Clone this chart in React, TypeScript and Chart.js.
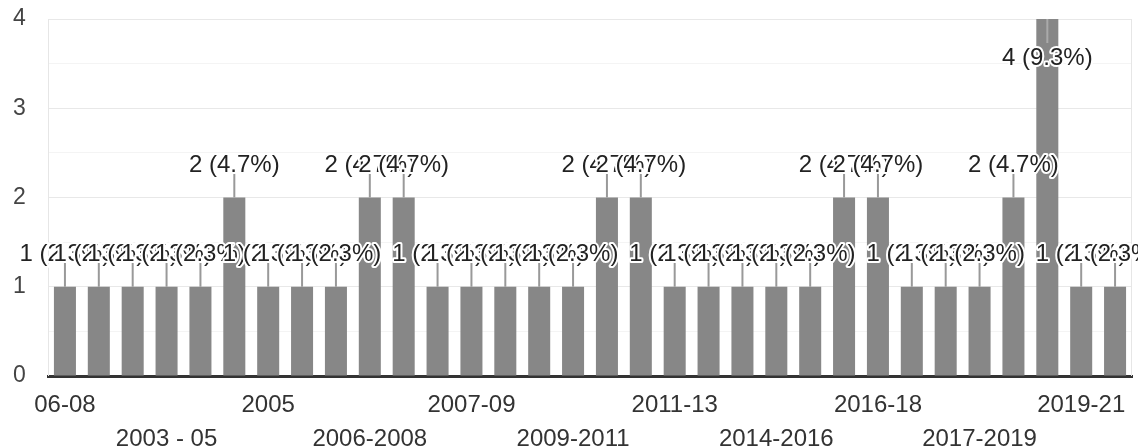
import React, { useEffect, useRef } from "react";
import { Chart, registerables } from "chart.js";

Chart.register(...registerables);

const categories: string[] = [
  "06-08", "2002-04", "2003 - 04", "2003 - 05", "2004-06", "2004-2006", "2005", "2005-07",
  "2005-2007", "2006-2008", "2006-08", "2007", "2007-09", "2008-10", "2008-2010", "2009-2011",
  "2009-11", "2010-12", "2011-13", "2011-2013", "2012-14", "2014-2016", "2014-16", "2015-17",
  "2016-18", "2016-2018", "2017-19", "2017-2019", "2018-20", "2018-2020", "2019-21", "2020-22",
];

const counts: number[] = [
  1, 1, 1, 1, 1, 2, 1, 1, 1, 2, 2, 1, 1, 1, 1, 1,
  2, 2, 1, 1, 1, 1, 1, 2, 2, 1, 1, 1, 2, 4, 1, 1,
];

const yTicks: number[] = [0, 1, 2, 3, 4];

const FONT = 'Arial, "Liberation Sans", sans-serif';
const total = counts.reduce((a, b) => a + b, 0);

const annotationPlugin = {
  id: "barAnnotations",
  beforeDatasetsDraw(chart: any) {
    const { ctx, chartArea } = chart;
    ctx.save();
    ctx.strokeStyle = "#e6e6e6";
    ctx.lineWidth = 1;
    ctx.beginPath();
    ctx.moveTo(chartArea.left + 0.5, chartArea.top);
    ctx.lineTo(chartArea.left + 0.5, chartArea.bottom);
    ctx.moveTo(chartArea.right - 0.5, chartArea.top);
    ctx.lineTo(chartArea.right - 0.5, chartArea.bottom);
    ctx.stroke();
    ctx.restore();
  },
  afterDatasetsDraw(chart: any) {
    const { ctx, chartArea } = chart;
    const meta = chart.getDatasetMeta(0);
    const items = meta.data.map((bar: any, i: number) => {
      const v = counts[i];
      const top = bar.y;
      const inside = top - 33 - 12 < chartArea.top;
      return {
        x: bar.x,
        top,
        inside,
        text: `${v} (${((v / total) * 100).toFixed(1)}%)`,
      };
    });
    ctx.save();
    ctx.lineWidth = 2;
    items.forEach((it: any) => {
      ctx.strokeStyle = it.inside ? "#aaaaaa" : "#999999";
      ctx.beginPath();
      ctx.moveTo(it.x, it.top);
      ctx.lineTo(it.x, it.inside ? it.top + 24 : it.top - 24);
      ctx.stroke();
    });
    ctx.font = `24px ${FONT}`;
    ctx.textAlign = "center";
    ctx.textBaseline = "middle";
    ctx.lineJoin = "round";
    items.forEach((it: any) => {
      const y = it.inside ? it.top + 39 : it.top - 32;
      ctx.strokeStyle = "#ffffff";
      ctx.lineWidth = 4;
      ctx.strokeText(it.text, it.x, y);
      ctx.fillStyle = "#222222";
      ctx.fillText(it.text, it.x, y);
    });
    ctx.restore();
  },
};

export default function App() {
  const canvasRef = useRef<HTMLCanvasElement | null>(null);

  useEffect(() => {
    if (!canvasRef.current) return;
    const chart = new Chart(canvasRef.current, {
      type: "bar",
      data: {
        labels: categories,
        datasets: [
          {
            data: counts,
            backgroundColor: "#878787",
            barPercentage: 0.65,
            categoryPercentage: 1,
          },
        ],
      },
      options: {
        responsive: false,
        animation: false,
        layout: { padding: { top: 19, right: 6, left: 13, bottom: 0 } },
        plugins: { legend: { display: false }, tooltip: { enabled: false } },
        scales: {
          x: {
            grid: { display: true, color: "rgba(0,0,0,0)", drawTicks: false },
            border: { display: true, color: "#333333", width: 3 },
            afterFit: (scale: any) => {
              scale.height = 72;
            },
            ticks: {
              autoSkip: false,
              maxRotation: 0,
              minRotation: 0,
              padding: 13,
              color: "#333333",
              font: { family: FONT, size: 24, lineHeight: 1.4 },
              callback: (_v: any, i: number) => {
                if (i % 3 !== 0) return "";
                const lbl = categories[i];
                return (i / 3) % 2 === 0 ? lbl : ["", lbl];
              },
            },
          },
          y: {
            min: 0,
            max: 4,
            border: { display: false },
            afterFit: (scale: any) => {
              scale.width = 35;
            },
            grid: {
              drawTicks: false,
              color: (c: any) =>
                c.tick && yTicks.includes(c.tick.value) ? "#e8e8e8" : "#f4f4f4",
            },
            ticks: {
              stepSize: 0.5,
              padding: 0,
              crossAlign: "far",
              color: "#444444",
              font: { family: FONT, size: 23 },
              callback: (v: any) => (yTicks.includes(Number(v)) ? String(v) : ""),
            },
          },
        },
      },
      plugins: [annotationPlugin],
    });
    return () => chart.destroy();
  }, []);

  return (
    <div style={{ position: "fixed", left: 0, top: 0, width: 1138, height: 448, background: "#fff" }}>
      <canvas ref={canvasRef} width={1138} height={448} style={{ display: "block" }} />
    </div>
  );
}
